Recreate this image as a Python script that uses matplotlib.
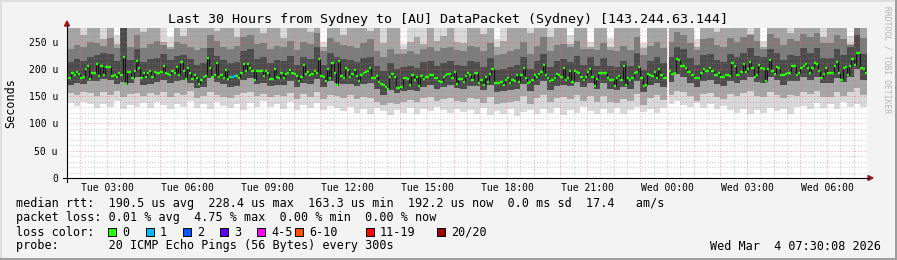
import numpy as np
import pandas as pd
import matplotlib
matplotlib.use("Agg")
import matplotlib.pyplot as plt
import matplotlib.dates as mdates
from matplotlib.patches import Rectangle, Polygon
from matplotlib.lines import Line2D

W, H = 897, 260
FONT = "DejaVu Sans Mono"

# ---- data ------------------------------------------------------------------
start = pd.Timestamp("2026-03-03 01:30:00")   # Tue 01:30, 30 h window
step_min = 5

# median rtt in microseconds, one value per 5 min step
med_a = [184, 184, 192, 189, 195, 190, 184, 186, 199, 206,
         182, 192, 193, 209, 187, 206, 189, 203, 203, 203,
         187, 189, 186, 192, 189, 222, 173, 195, 195, 184,
         196, 214, 202, 183, 193, 186, 192, 196, 186, 195,
         193, 192, 195, 206, 192, 190, 189, 196, 192, 203,
         189, 213, 196, 181, 202, 193, 181, 189, 183, 173,
         179, 186, 187, 220, 202, 186, 189, 211, 186, 189,
         183, 198, 181, 186, 186, 187, 187, 183, 193, 209,
         196, 209, 202, 196, 180, 196, 196, 196, 187, 196,
         192, 181, 181]
med_b = [199.6, 185.6, 182.5, 191.7, 182.5, 189.9, 192.9, 197.8, 192.9, 189.9,
         187.0, 177.9, 185.6, 207.0, 189.9, 194.7, 188.6, 189.9, 196.0, 192.9,
         217.3, 187.0, 185.6, 178.5, 199.1, 182.5, 210.0, 191.7, 170.4, 214.9,
         187.0, 183.8, 200.8, 197.8, 185.6, 189.9, 197.8, 187.0, 177.9, 188.6,
         191.7, 194.7, 196.6, 200.8, 182.5, 182.5, 187.4, 175.2, 171.6, 170.4,
         167.4, 163.3, 185.6, 189.9, 185.6, 164.5, 164.5, 167.4, 183.8, 182.5,
         180.7, 170.4, 188.6, 179.5, 185.6, 168.6, 187.4, 181.3, 185.6, 185.6,
         188.6, 188.6, 182.5, 182.5, 177.9, 176.7, 185.6, 188.6, 190.5, 190.5,
         182.5, 193.5, 172.8, 181.3, 181.3, 176.7, 187.4, 192.9, 188.6]
med_c = [180.1, 192.9, 192.9, 173.4, 180.1, 170.4, 185.6, 176.7, 189.9, 199.1,
         174.6, 174.6, 174.6, 176.7, 170.4, 179.5, 182.5, 173.4, 179.5, 177.9,
         188.6, 176.7, 188.6, 202.1, 182.5, 174.6, 176.7, 179.5, 188.6, 185.6,
         189.9, 194.7, 207.0, 188.6, 183.8, 177.9, 179.5, 182.5, 189.9, 188.6,
         184.4, 202.1, 179.5, 183.8, 196.0, 176.7, 196.0, 194.7, 191.7, 185.6,
         179.5, 185.6, 194.7, 199.6, 185.6, 168.5, 181.3, 192.9, 191.7, 192.9,
         191.7, 183.8, 180.1, 180.1, 168.5, 182.5, 187.4, 179.5, 205.1, 170.4,
         182.5, 179.5, 183.8, 191.7, 194.7, 203.3, 183.8, 168.5, 170.4, 189.9,
         188.6, 187.0, 194.7, 183.8, 199.6, 188.6, 182.5, 182.5]
med_gap = [np.nan]
med_d = [196.6, 190.5, 192.9, 218.0, 215.5, 205.7, 205.7, 202.1, 194.7, 194.7,
         188.6, 182.5, 182.5, 182.5, 192.9, 199.6, 196.0, 196.0, 202.1, 196.6,
         188.6, 188.6, 191.7, 184.4, 184.4, 188.6, 188.6, 187.4, 211.2, 205.7,
         188.6, 188.6, 194.7, 208.8, 194.7, 199.1, 213.0, 202.1, 185.6, 188.6,
         207.0, 202.1, 199.1, 177.9, 199.1, 216.8, 196.0, 190.5, 203.3, 202.1,
         188.6, 188.6, 190.5, 191.7, 191.7, 205.7, 205.7, 188.6, 191.7, 202.1,
         205.7, 208.2, 201.4, 192.9, 202.1, 210.0, 208.8, 196.0, 182.5, 190.5,
         202.1, 191.7, 191.7, 192.9, 205.7, 213.0, 191.7, 179.5, 201.4, 203.3,
         188.6, 205.7, 218.0, 207.0, 228.4, 228.4, 202.1, 199.1, 192.2]

# lost pings (out of 20) where not zero, by step index
lost_pings = {74: 1, 75: 1}

# smoke: ping distribution per 15 min column (us), bottom to top
s_min = [138, 132, 140, 135, 128, 136, 130, 142, 126, 134,
         130, 138, 128, 140, 133, 126, 136, 131, 142, 129,
         136, 127, 140, 132, 128, 135, 124, 138, 130, 141,
         130, 136, 127, 139, 125, 133, 129, 137, 124, 132,
         128, 122, 131, 120, 126, 118, 128, 122, 116, 125,
         120, 128, 118, 126, 122, 130, 124, 119, 127, 121,
         125, 118, 128, 115, 122, 117, 126, 114, 121, 124,
         118, 126, 120, 128, 116, 124, 119, 130, 122, 117,
         126, 120, 129, 118, 124, 131, 121, 127, 119, 128,
         136, 142, 134, 130, 138, 128, 135, 126, 132, 124,
         120, 127, 117, 124, 119, 128, 122, 126, 118, 130,
         132, 126, 138, 129, 135, 127, 140, 131, 136, 130]
s_q1 = [156, 152, 158, 155, 150, 157, 153, 160, 148, 154,
        155, 150, 156, 152, 158, 149, 155, 153, 160, 147,
        150, 157, 152, 149, 146, 153, 155, 158, 150, 154,
        148, 152, 150, 156, 145, 154, 149, 157, 144, 153,
        150, 146, 152, 145, 148, 147, 140, 134, 138, 136,
        140, 143, 139, 146, 148, 142, 145, 147, 141, 140,
        146, 144, 138, 148, 136, 137, 139, 142, 150, 136,
        147, 153, 139, 146, 148, 144, 152, 142, 151, 139,
        150, 140, 138, 144, 141, 154, 134, 146, 152, 143,
        152, 160, 158, 150, 142, 154, 156, 148, 145, 154,
        150, 155, 160, 150, 149, 158, 153, 146, 152, 151,
        158, 154, 159, 148, 149, 157, 151, 158, 165, 152]
s_q2 = [171, 174, 172, 177, 178, 181, 180, 172, 176, 174,
        185, 171, 173, 176, 180, 174, 177, 179, 174, 165,
        167, 183, 176, 172, 166, 169, 180, 183, 172, 175,
        168, 171, 170, 177, 167, 175, 173, 182, 166, 178,
        174, 172, 172, 169, 173, 174, 164, 153, 161, 155,
        160, 162, 160, 167, 170, 163, 166, 170, 165, 164,
        169, 168, 161, 171, 158, 159, 161, 164, 173, 159,
        170, 178, 162, 169, 171, 168, 176, 166, 175, 163,
        174, 163, 161, 167, 164, 178, 157, 170, 175, 167,
        176, 190, 186, 175, 166, 178, 180, 172, 168, 177,
        175, 180, 186, 176, 174, 185, 180, 171, 178, 177,
        186, 180, 186, 174, 174, 184, 176, 185, 200, 180]
s_q3 = [212, 218, 214, 222, 226, 230, 228, 214, 300, 216,
        236, 212, 218, 220, 228, 216, 224, 226, 218, 208,
        210, 238, 224, 216, 210, 212, 232, 236, 218, 222,
        210, 216, 214, 224, 208, 222, 218, 240, 208, 230,
        222, 218, 216, 212, 220, 222, 206, 196, 210, 200,
        204, 206, 202, 212, 214, 206, 210, 214, 208, 206,
        214, 212, 204, 220, 198, 200, 204, 208, 222, 200,
        214, 228, 204, 214, 218, 212, 224, 208, 222, 206,
        220, 206, 204, 214, 206, 230, 198, 214, 222, 210,
        222, 240, 236, 220, 208, 226, 228, 216, 212, 228,
        222, 230, 238, 224, 222, 236, 230, 216, 226, 224,
        238, 230, 238, 220, 220, 236, 226, 240, 262, 228]
s_q35 = [236, 244, 240, 250, 248, 242, 256, 238, 300, 240,
         262, 238, 246, 252, 244, 236, 250, 246, 240, 234,
         238, 262, 252, 240, 236, 242, 258, 262, 246, 248,
         236, 242, 240, 252, 234, 250, 246, 266, 232, 256,
         250, 244, 242, 238, 248, 254, 232, 222, 236, 228,
         228, 232, 228, 236, 240, 232, 238, 240, 234, 232,
         242, 240, 232, 248, 226, 228, 232, 236, 250, 228,
         242, 258, 232, 244, 246, 240, 252, 236, 236, 234,
         248, 234, 232, 242, 234, 258, 226, 242, 250, 238,
         250, 268, 262, 248, 234, 254, 256, 244, 240, 256,
         250, 258, 262, 252, 236, 264, 256, 244, 254, 252,
         264, 258, 266, 248, 248, 262, 254, 244, 290, 256]
s_q4 = [300, 300, 262, 300, 300, 255, 300, 245, 300, 300,
        300, 268, 300, 300, 250, 240, 300, 260, 300, 300,
        300, 300, 270, 300, 300, 258, 300, 300, 300, 265,
        300, 300, 256, 300, 300, 300, 268, 300, 240, 300,
        300, 262, 300, 300, 300, 270, 300, 248, 300, 300,
        236, 250, 258, 246, 300, 252, 260, 300, 250, 248,
        300, 300, 264, 300, 240, 252, 300, 300, 300, 266,
        300, 300, 258, 300, 300, 245, 300, 300, 240, 300,
        300, 240, 300, 300, 300, 300, 238, 300, 300, 300,
        300, 300, 300, 300, 240, 300, 300, 268, 300, 300,
        300, 300, 264, 300, 240, 300, 300, 300, 266, 300,
        300, 300, 300, 258, 300, 300, 300, 245, 300, 300]
s_max = [300, 300, 300, 300, 300, 300, 300, 262, 300, 300,
         300, 300, 300, 300, 300, 258, 300, 300, 300, 300,
         300, 300, 300, 300, 300, 300, 300, 300, 300, 300,
         300, 300, 300, 300, 300, 300, 300, 300, 250, 300,
         300, 300, 300, 300, 300, 300, 300, 300, 300, 300,
         246, 300, 300, 300, 300, 300, 300, 300, 300, 300,
         300, 300, 300, 300, 255, 300, 300, 300, 300, 300,
         300, 300, 300, 300, 300, 262, 300, 300, 250, 300,
         300, 256, 300, 300, 300, 300, 248, 300, 300, 300,
         300, 300, 300, 300, 254, 300, 300, 300, 300, 300,
         300, 300, 300, 300, 252, 300, 300, 300, 300, 300,
         300, 300, 300, 300, 300, 300, 300, 260, 300, 300]

y_ticks = [0, 50, 100, 150, 200, 250]
y_tick_labels = ["0", "50 u", "100 u", "150 u", "200 u", "250 u"]

loss_labels = ["0", "1", "2", "3", "4-5", "6-10", "11-19", "20/20"]
loss_colors = ["#26ff00", "#00b8ff", "#0059ff", "#5e00ff",
               "#ff00ff", "#ff5500", "#ff0000", "#a10000"]

title = "Last 30 Hours from Sydney to [AU] DataPacket (Sydney) [143.244.63.144]"
legend_rows = [
    "median rtt:  190.5 us avg  228.4 us max  163.3 us min  192.2 us now  0.0 ms sd  17.4   am/s",
    "packet loss: 0.01 % avg  4.75 % max  0.00 % min  0.00 % now",
    "loss color:",
    "probe:       20 ICMP Echo Pings (56 Bytes) every 300s",
]
stamp = "Wed Mar  4 07:30:08 2026"


def loss_bucket(n):
    if n <= 3:
        return n
    if n <= 5:
        return 4
    if n <= 10:
        return 5
    if n <= 19:
        return 6
    return 7


def px(x):
    return x / W


def py(y):
    return 1 - y / H


median = np.array(med_a + med_b + med_c + med_gap + med_d, dtype=float)
times = pd.date_range(start, periods=len(median), freq=f"{step_min}min")
xs = mdates.date2num(times.to_pydatetime())
w = step_min / 1440.0
ok = ~np.isnan(median)

rep = 3  # 15 min smoke columns over 5 min steps
smoke = {k: np.repeat(np.array(v, dtype=float), rep)[: len(median)]
         for k, v in dict(mn=s_min, q1=s_q1, q2=s_q2, q3=s_q3, q35=s_q35,
                          q4=s_q4, mx=s_max).items()}

fig = plt.figure(figsize=(W / 100, H / 100), dpi=100, facecolor="#f3f3f3")
ax = fig.add_axes([px(67), py(178), 800 / W, 150 / H])
ax.set_facecolor("white")

bands = [("mn", "mx", "#d9d9d9"), ("q1", "q4", "#a6a6a6"),
         ("q2", "q35", "#7c7c7c"), ("q2", "q3", "#4c4c4c")]
for lo, hi, col in bands:
    b = smoke[lo][ok]
    ax.bar(xs[ok], smoke[hi][ok] - b, bottom=b, width=w, align="edge",
           color=col, linewidth=0, antialiased=False, zorder=1)

# grid
end = start + pd.Timedelta(hours=30)
for v in range(10, 275, 10):
    major = v % 50 == 0
    ax.axhline(v, color=(1, 0.35, 0.35, 0.6) if major else (0.55, 0.55, 0.55, 0.5),
               lw=0.7, ls=(0, (1, 2)), zorder=2)
for t in pd.date_range(start.ceil("30min"), end, freq="30min"):
    major = t.minute == 0
    ax.axvline(mdates.date2num(t.to_pydatetime()),
               color=(1, 0.35, 0.35, 0.6) if major else (0.55, 0.55, 0.55, 0.5),
               lw=0.7, ls=(0, (1, 2)), zorder=2)

# median: dark connectors + loss-coloured dashes
ax.vlines(xs[1:], median[:-1], median[1:], color="#141414", lw=0.8, zorder=3)
cols = np.array([loss_colors[loss_bucket(lost_pings.get(i, 0))]
                 for i in range(len(median))])
ax.hlines(median[ok], xs[ok], xs[ok] + w, colors=cols[ok], lw=1.7, zorder=4)

ax.set_xlim(mdates.date2num(start.to_pydatetime()), mdates.date2num(end.to_pydatetime()))
ax.set_ylim(0, 275)
ax.set_yticks(y_ticks)
ax.set_yticklabels(y_tick_labels)
ax.xaxis.set_major_locator(mdates.HourLocator(byhour=range(0, 24, 3)))
ax.xaxis.set_major_formatter(mdates.DateFormatter("%a %H:%M"))
ax.tick_params(axis="both", length=0, labelsize=7)
ax.tick_params(axis="y", pad=6.5)
ax.tick_params(axis="x", pad=3.5)
for lab in ax.get_xticklabels() + ax.get_yticklabels():
    lab.set_family(FONT)
for s in ax.spines.values():
    s.set_visible(False)

# axis lines with arrows
fig.add_artist(Line2D([px(67), px(67)], [py(182), py(25)], color="black", lw=0.8))
fig.add_artist(Line2D([px(63), px(869)], [py(178), py(178)], color="black", lw=0.8))
fig.add_artist(Polygon([(px(64.5), py(26)), (px(69.5), py(26)), (px(67), py(21))],
                       closed=True, color="#a01818", transform=fig.transFigure))
fig.add_artist(Polygon([(px(868), py(175.5)), (px(868), py(180.5)), (px(873), py(178))],
                       closed=True, color="#a01818", transform=fig.transFigure))

# texts
fig.text(px(448), py(19), title, family=FONT, fontsize=9.6, ha="center", va="center")
fig.text(px(11), py(103), "Seconds", family=FONT, fontsize=8.5, rotation=90,
         ha="center", va="center")
fig.text(px(887), py(60), "RRDTOOL / TOBI OETIKER", family=FONT, fontsize=5.8,
         rotation=270, ha="center", va="center", color="#b4b4b4")
for row, y in zip(legend_rows, [204, 218, 232, 246]):
    fig.text(px(16), py(y), row, family=FONT, fontsize=8.5, ha="left", va="center")
fig.text(px(880.5), py(246), stamp, family=FONT, fontsize=8.5, ha="right", va="center")

box_x = [108, 146, 183, 220, 257, 295, 366, 437]
for bx, lab, col in zip(box_x, loss_labels, loss_colors):
    fig.add_artist(Rectangle((px(bx), py(236)), 8 / W, 8 / H, facecolor=col,
                             edgecolor="black", lw=0.7, transform=fig.transFigure))
    fig.text(px(bx + 14), py(232), lab, family=FONT, fontsize=8.5, ha="left", va="center")

# 3d-ish frame
fig.add_artist(Rectangle((0, 1 - 2 / H), 1, 2 / H, facecolor="#dedede", lw=0,
                         transform=fig.transFigure))
fig.add_artist(Rectangle((0, 0), 2 / W, 1, facecolor="#dedede", lw=0,
                         transform=fig.transFigure))
fig.add_artist(Rectangle((0, 0), 1, 2.5 / H, facecolor="#9e9e9e", lw=0,
                         transform=fig.transFigure))
fig.add_artist(Rectangle((1 - 2 / W, 0), 2 / W, 1, facecolor="#9e9e9e", lw=0,
                         transform=fig.transFigure))

fig.savefig("out.png", dpi=100, facecolor=fig.get_facecolor())
